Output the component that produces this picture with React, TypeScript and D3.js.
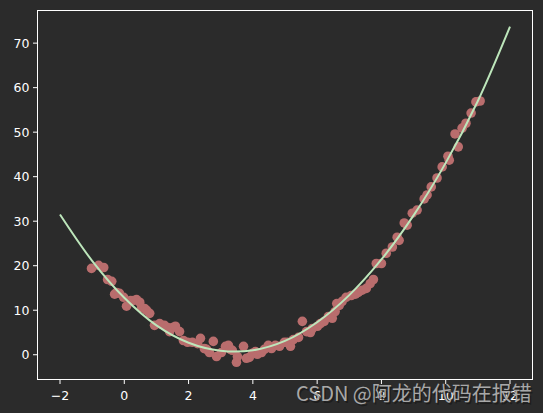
import React from "react";
import * as d3 from "d3";

const scatterX = [
  -1.02, -0.8, -0.64, -0.52, -0.39, -0.24, -0.3, -0.15, -0.02, 0.07, 0.2, 0.29, 0.38, 0.48, 0.54, 0.63, 0.69, 0.79,
  0.94, 1.1, 1.25, 1.35, 1.5, 1.41, 1.59, 1.72, 1.84, 1.97, 2.12, 2.28, 2.37, 2.49, 2.56, 2.65, 2.77, 2.87, 3.02,
  3.15, 3.24, 3.3, 3.36, 3.49, 3.52, 3.71, 3.8, 3.89, 3.99, 4.08, 4.14, 4.27, 4.36, 4.48, 4.58, 4.7, 4.83, 4.98,
  5.07, 5.17, 5.26, 5.42, 5.54, 5.67, 5.79, 5.85, 6.01, 6.1, 6.22, 6.35, 6.47, 6.56, 6.61, 6.69, 6.78, 6.9, 7.06,
  7.19, 7.28, 7.4, 7.53, 7.65, 7.75, 7.84, 8.0, 8.15, 8.34, 8.49, 8.55, 8.71, 8.8, 8.96, 9.11, 9.33, 9.42, 9.55,
  9.73, 9.89, 10.11, 10.07, 10.29, 10.39, 10.51, 10.63, 10.79, 10.94, 11.07,
];
const scatterY = [
  19.4, 20.1, 19.6, 16.9, 16.5, 14.0, 13.6, 13.8, 12.9, 10.9, 12.2, 12.2, 12.4, 11.8, 10.6, 10.4, 10.0, 9.3, 6.6,
  7.0, 6.6, 6.1, 6.1, 5.2, 6.4, 5.2, 3.2, 2.8, 2.8, 2.5, 3.7, 1.4, 1.2, 0.5, 3.0, -0.4, 0.5, 1.9, 2.1, 1.2, 1.0,
  -1.7, -0.4, 1.9, -0.8, -0.6, 0.3, 0.7, 0.1, 0.5, 1.2, 2.1, 1.4, 2.1, 1.9, 2.8, 2.8, 1.9, 3.4, 3.9, 7.5, 5.2, 5.0,
  5.9, 6.4, 7.0, 7.5, 8.6, 8.2, 9.7, 11.5, 11.1, 12.0, 12.9, 13.3, 13.6, 14.0, 14.5, 14.9, 16.0, 16.9, 20.5, 20.5,
  22.8, 24.2, 26.4, 25.7, 29.6, 29.1, 31.8, 32.5, 35.0, 35.9, 37.7, 39.7, 42.2, 43.7, 44.6, 49.6, 46.7, 50.9, 52.0,
  54.3, 56.8, 57.0,
];

const curveX = [-2, -1, 0, 1, 2, 3, 4, 5, 6, 7, 8, 9, 10, 11, 12];
const curveY = [31.5, 21.1, 12.8, 6.6, 2.7, 0.9, 1.0, 3.1, 7.3, 13.4, 21.4, 31.3, 43.1, 57.0, 73.7];

const xTicks = [-2, 0, 2, 4, 6, 8, 10, 12];
const yTicks = [0, 10, 20, 30, 40, 50, 60, 70];

const W = 543;
const H = 413;
const left = 37.5;
const right = 532.5;
const top = 10.5;
const bottom = 379.5;

export default function App() {
  const x = d3.scaleLinear().domain([-2.7, 12.7]).range([left, right]);
  const y = d3.scaleLinear().domain([-5.56, 77.33]).range([bottom, top]);
  const pts = scatterX.map((v, i) => [v, scatterY[i]] as [number, number]);
  const line = d3
    .line<number>()
    .x((_, i) => x(curveX[i]))
    .y((d) => y(d))
    .curve(d3.curveCatmullRom.alpha(0.5));
  const fmt = (v: number) => (v < 0 ? "\u2212" + Math.abs(v) : String(v));
  const font = "'DejaVu Sans', sans-serif";
  const wm = "CSDN @阿龙的代码在报错";
  return (
    <svg width={W} height={H} style={{ position: "absolute", left: 0, top: 0, display: "block" }}>
      <rect x={0} y={0} width={W} height={H} fill="#2b2b2b" />
      {pts.map((p, i) => (
        <circle key={i} cx={x(p[0])} cy={y(p[1])} r={4.8} fill="#b96d6d" />
      ))}
      <path d={line(curveY) || ""} fill="none" stroke="#bde6bb" strokeWidth={2} />
      <rect x={left} y={top} width={right - left} height={bottom - top} fill="none" stroke="#ffffff" strokeWidth={1} />
      {xTicks.map((t) => (
        <g key={"x" + t}>
          <line x1={x(t)} x2={x(t)} y1={bottom} y2={bottom + 4.5} stroke="#ffffff" strokeWidth={1} />
          <text x={x(t)} y={bottom + 20} fill="#ffffff" fontSize={12.5} fontFamily={font} textAnchor="middle">
            {fmt(t)}
          </text>
        </g>
      ))}
      {yTicks.map((t) => (
        <g key={"y" + t}>
          <line x1={left - 4.5} x2={left} y1={y(t)} y2={y(t)} stroke="#ffffff" strokeWidth={1} />
          <text x={left - 8} y={y(t) + 4.5} fill="#ffffff" fontSize={12.5} fontFamily={font} textAnchor="end">
            {fmt(t)}
          </text>
        </g>
      ))}
      <text x={297.5} y={402.5} fill="#1a1a1a" fillOpacity={0.8} fontSize={20} fontFamily="'Noto Sans CJK SC', sans-serif">
        {wm}
      </text>
      <text x={296} y={401} fill="#a8a8a8" fontSize={20} fontFamily="'Noto Sans CJK SC', sans-serif">
        {wm}
      </text>
    </svg>
  );
}
